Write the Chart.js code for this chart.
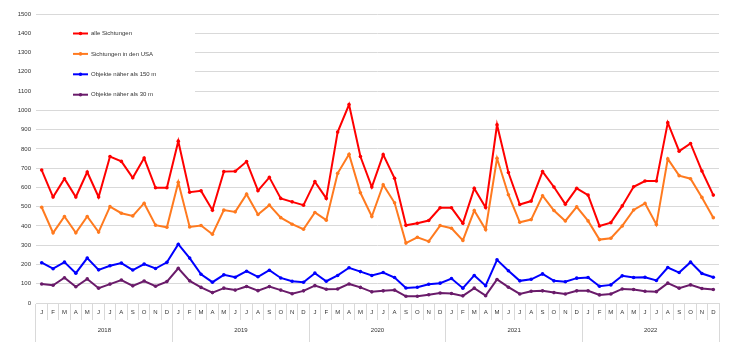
<!DOCTYPE html>
<html>
<head>
<meta charset="utf-8">
<style>
  html, body { margin: 0; padding: 0; background: #ffffff; }
  canvas { display: block; }
</style>
<script src="https://cdn.jsdelivr.net/npm/chart.js@4.4.1/dist/chart.umd.min.js"></script>
</head>
<body>
<canvas id="chart" width="729" height="342"></canvas>
<script>
// Monthly UFO sightings 2018-2022
const months = ['J', 'F', 'M', 'A', 'M', 'J', 'J', 'A', 'S', 'O', 'N', 'D'];
const years = ['2018', '2019', '2020', '2021', '2022'];
const yTicks = [0, 100, 200, 300, 400, 500, 600, 700, 800, 900, 1000, 1100, 1200, 1300, 1400, 1500];

const seriesNames = ['alle Sichtungen', 'Sichtungen in den USA', 'Objekte näher als 150 m', 'Objekte näher als 30 m'];

const alleSichtungen = [
  690, 550, 645, 550, 680, 550, 760, 735, 650, 752, 598, 598,
  840, 575, 582, 482, 682, 684, 734, 583, 652, 543, 525, 508,
  630, 543, 887, 1030, 760, 602, 770, 647, 403, 414, 428, 494,
  494, 414, 595, 496, 925, 677, 511, 529, 682, 602, 513, 595,
  560, 400, 417, 504, 603, 633, 633, 936, 788, 828, 685, 560
];
const sichtungenUSA = [
  497, 364, 449, 364, 449, 368, 500, 466, 452, 518, 404, 393,
  627, 395, 402, 357, 482, 473, 565, 459, 508, 443, 409, 383,
  470, 430, 673, 772, 572, 449, 614, 520, 311, 341, 320, 402,
  388, 325, 480, 381, 751, 562, 419, 433, 557, 480, 426, 499,
  426, 329, 336, 400, 483, 517, 407, 748, 661, 645, 548, 443
];
const naeher150 = [
  209, 178, 212, 155, 233, 172, 193, 207, 171, 202, 179, 211,
  305, 233, 149, 108, 146, 134, 165, 136, 170, 130, 113, 108,
  155, 113, 143, 183, 163, 143, 158, 132, 78, 82, 97, 103,
  127, 77, 143, 90, 224, 167, 115, 123, 151, 115, 110, 129,
  132, 87, 94, 141, 132, 134, 117, 184, 158, 212, 153, 134
];
const naeher30 = [
  99, 92, 131, 84, 125, 77, 98, 119, 89, 114, 87, 111,
  180, 115, 81, 54, 77, 67, 86, 64, 85, 67, 48, 63,
  90, 71, 73, 99, 81, 58, 63, 67, 35, 35, 43, 52,
  49, 37, 77, 38, 122, 82, 47, 61, 63, 54, 47, 63,
  63, 42, 47, 73, 70, 61, 59, 103, 77, 94, 75, 70
];

const colors = ['#ff0000', '#ff7a1f', '#0000ff', '#6a1b6a'];
const values = [alleSichtungen, sichtungenUSA, naeher150, naeher30];

const labels = years.flatMap(() => months);
const FONT = 'Liberation Sans, Arial, sans-serif';
const TEXT = '#333333';
const GRID = '#d9d9d9';

// Legend drawn as a boxed panel inside the plot area
const innerLegend = {
  id: 'innerLegend',
  afterDatasetsDraw(chart) {
    const ctx = chart.ctx;
    const area = chart.chartArea;
    ctx.save();
    ctx.fillStyle = '#ffffff';
    ctx.fillRect(area.left, 21, 195 - area.left, 82);
    chart.data.datasets.forEach((ds, i) => {
      const y = 33.5 + i * 20.4;
      ctx.strokeStyle = ds.borderColor;
      ctx.lineWidth = 2;
      ctx.beginPath();
      ctx.moveTo(73, y);
      ctx.lineTo(88, y);
      ctx.stroke();
      ctx.fillStyle = ds.borderColor;
      ctx.beginPath();
      ctx.arc(80.5, y, 1.8, 0, Math.PI * 2);
      ctx.fill();
      ctx.fillStyle = TEXT;
      ctx.font = '6px ' + FONT;
      ctx.textBaseline = 'middle';
      ctx.textAlign = 'left';
      ctx.fillText(ds.label, 91, y);
    });
    ctx.restore();
  }
};

new Chart(document.getElementById('chart'), {
  type: 'line',
  data: {
    labels: labels,
    datasets: values.map((v, i) => ({
      label: seriesNames[i],
      data: v,
      borderColor: colors[i],
      backgroundColor: colors[i],
      borderWidth: 2,
      pointRadius: 1.8,
      pointHoverRadius: 1.8,
      pointBorderWidth: 0,
      tension: 0,
      xAxisID: 'x',
      yAxisID: 'y'
    }))
  },
  options: {
    responsive: false,
    animation: false,
    events: [],
    layout: { padding: { top: 14, right: 10, left: 0, bottom: 0 } },
    plugins: {
      legend: { display: false },
      tooltip: { enabled: false }
    },
    scales: {
      y: {
        min: 0,
        max: 1500,
        afterFit(s) { s.width = 36; },
        afterBuildTicks(s) { s.ticks = yTicks.map(v => ({ value: v })); },
        grid: { color: GRID, lineWidth: 1, drawTicks: false },
        border: { display: false },
        ticks: {
          padding: 5, color: TEXT, font: { family: FONT, size: 6 },
          callback: (v) => String(v)
        }
      },
      x: {
        type: 'category',
        position: 'bottom',
        offset: true,
        afterFit(s) { s.height = 17; },
        grid: { offset: true, drawOnChartArea: false, tickLength: 17, color: GRID, lineWidth: 1 },
        border: { display: true, color: GRID },
        ticks: {
          autoSkip: false, maxRotation: 0, minRotation: 0,
          padding: -11, color: TEXT, font: { family: FONT, size: 6 }
        }
      },
      x2: {
        type: 'category',
        position: 'bottom',
        labels: years,
        offset: true,
        afterFit(s) { s.height = 22; },
        grid: { offset: true, drawOnChartArea: false, tickLength: 22, color: GRID, lineWidth: 1 },
        border: { display: false },
        ticks: {
          autoSkip: false, maxRotation: 0, minRotation: 0,
          padding: -15, color: TEXT, font: { family: FONT, size: 6 }
        }
      }
    }
  },
  plugins: [innerLegend]
});
</script>
</body>
</html>
